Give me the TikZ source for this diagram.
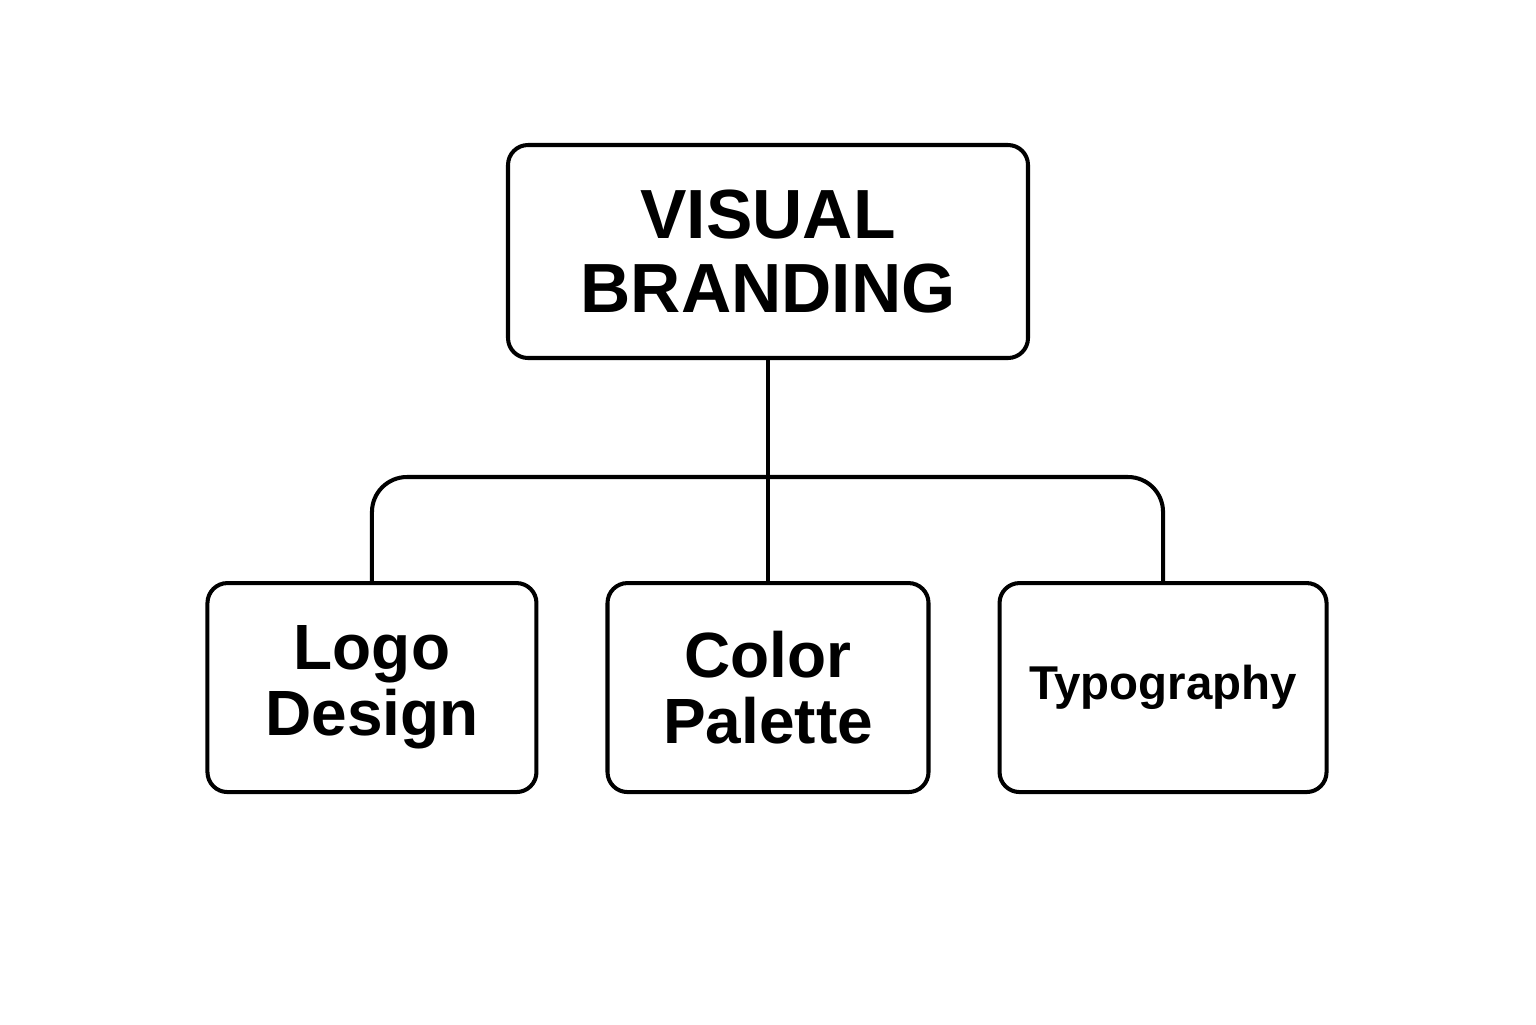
\documentclass[tikz,border=0pt]{standalone}
\usepackage{fontspec}
\setmainfont{Liberation Sans}
\usetikzlibrary{positioning}

\begin{document}
\begin{tikzpicture} [box/.style={draw,line width=2.3pt,rounded corners=0.4cm,align=center,font=\bfseries,minimum height=4.18cm},
  link/.style={line width=2.3pt}]
\useasboundingbox (0,0) rectangle (30.72,-20.48);
\node[box,minimum width=10.4cm,minimum height=4.26cm,font=\bfseries\fontsize{39.6}{42.5}\selectfont] (brand) at (15.36,-5.03) {VISUAL\\BRANDING};
\node[box,minimum width=6.42cm,font=\bfseries\fontsize{36.4}{37.4}\selectfont] (color) [below=4.42cm of brand] {Color\\Palette};
\node[box,minimum width=6.58cm,font=\bfseries\fontsize{36.4}{37.4}\selectfont] (logo) [left=1.34cm of color] {Logo\\Design};
\node[box,minimum width=6.54cm,font=\bfseries\fontsize{27}{30}\selectfont] (typo) [right=1.34cm of color] {Typography};
\coordinate (hub) at (15.36,-9.54);

\draw[link](brand)--(color);
\draw[link,rounded corners=0.7cm](logo.north) |- (hub) -| (typo.north);
\end{tikzpicture}
\end{document}
